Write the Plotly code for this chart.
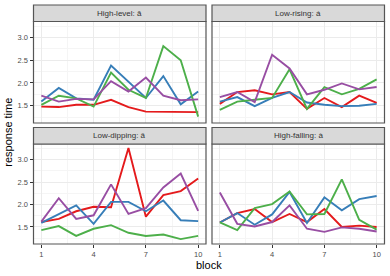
import plotly.graph_objects as go

blocks = [1, 2, 3, 4, 5, 6, 7, 8, 9, 10]
panel_titles = ["High-level: ā", "Low-rising: á", "Low-dipping: ǎ", "High-falling: à"]
series_names = ["group 1", "group 2", "group 3", "group 4"]
series_colors = ["#E41A1C", "#377EB8", "#4DAF4A", "#984EA3"]

# High-level: ā
hl_red    = [1.48, 1.47, 1.52, 1.52, 1.63, 1.47, 1.37, 1.37, 1.36, 1.36]
hl_blue   = [1.59, 1.89, 1.66, 1.63, 2.38, 2.03, 1.67, 2.15, 1.53, 1.81]
hl_green  = [1.52, 1.72, 1.66, 1.48, 2.23, 1.85, 1.67, 2.81, 2.50, 1.26]
hl_purple = [1.72, 1.59, 1.65, 1.64, 2.04, 1.81, 2.12, 1.72, 1.62, 1.64]

# Low-rising: á
lr_red    = [1.54, 1.80, 1.84, 1.75, 1.80, 1.43, 1.67, 1.47, 1.72, 1.56]
lr_blue   = [1.59, 1.69, 1.49, 1.67, 1.80, 1.57, 1.52, 1.49, 1.50, 1.54]
lr_green  = [1.41, 1.59, 1.63, 1.67, 2.30, 1.43, 1.91, 1.75, 1.87, 2.08]
lr_purple = [1.69, 1.80, 1.58, 2.62, 2.32, 1.75, 1.85, 1.99, 1.86, 1.91]

# Low-dipping: ǎ
ld_red    = [1.61, 1.68, 1.85, 1.95, 1.94, 3.26, 1.73, 2.21, 2.30, 2.58]
ld_blue   = [1.59, 1.79, 1.98, 1.57, 2.06, 2.06, 1.85, 2.09, 1.65, 1.63]
ld_green  = [1.43, 1.52, 1.30, 1.46, 1.54, 1.37, 1.30, 1.33, 1.23, 1.30]
ld_purple = [1.62, 2.14, 1.68, 1.76, 2.45, 1.79, 1.92, 2.38, 2.69, 1.86]

# High-falling: à
hf_red    = [1.60, 1.81, 1.90, 1.61, 1.79, 1.61, 1.90, 1.50, 1.53, 1.50]
hf_blue   = [1.60, 1.81, 1.55, 1.78, 2.28, 1.59, 2.16, 1.87, 2.12, 2.19]
hf_green  = [1.60, 1.43, 1.92, 2.01, 2.29, 1.78, 1.79, 2.56, 1.66, 1.44]
hf_purple = [2.27, 1.57, 1.51, 1.61, 1.98, 1.46, 1.39, 1.49, 1.46, 1.40]

panels = [
    [hl_red, hl_blue, hl_green, hl_purple],
    [lr_red, lr_blue, lr_green, lr_purple],
    [ld_red, ld_blue, ld_green, ld_purple],
    [hf_red, hf_blue, hf_green, hf_purple],
]

W, H = 390, 276
FONT = "Liberation Sans, Arial, sans-serif"

# panel geometry in pixels (left, right, top, bottom)
col_x = [(33.5, 206.0), (212.0, 384.5)]
row_y = [(21.5, 123.0), (144.0, 244.0)]
strip_h = 16.5

def px_x(v):
    return v / W

def px_y(v):
    return 1 - v / H

fig = go.Figure()
layout = dict(
    width=W, height=H,
    margin=dict(l=0, r=0, t=0, b=0),
    paper_bgcolor="white", plot_bgcolor="white",
    showlegend=False,
    font=dict(family=FONT, color="#4D4D4D"),
)
shapes = []
annotations = []

for i, series in enumerate(panels):
    r, c = divmod(i, 2)
    n = "" if i == 0 else str(i + 1)
    xl, xr = col_x[c]
    yt, yb = row_y[r]
    for name, color, vals in zip(series_names, series_colors, series):
        fig.add_trace(go.Scatter(
            x=blocks, y=vals, mode="lines", name=name,
            line=dict(color=color, width=1.9),
            xaxis="x" + n, yaxis="y" + n, showlegend=False,
        ))
    bottom = (r == 1)
    left = (c == 0)
    layout["xaxis" + n] = dict(
        domain=[px_x(xl), px_x(xr)], anchor="y" + n,
        range=[0.55, 10.45], tickvals=[1, 4, 7, 10],
        showticklabels=bottom, ticks="outside" if bottom else "",
        ticklen=3, tickwidth=0.8, tickcolor="#333333",
        tickfont=dict(size=7.5, color="#4D4D4D", family=FONT),
        showgrid=True, gridcolor="#EBEBEB", gridwidth=1,
        minor=dict(tickvals=[2.5, 5.5, 8.5], showgrid=True,
                   gridcolor="#F5F5F5", gridwidth=0.6, ticks=""),
        zeroline=False, showline=False, fixedrange=True,
    )
    layout["yaxis" + n] = dict(
        domain=[px_y(yb), px_y(yt)], anchor="x" + n,
        range=[1.12, 3.35], tickvals=[1.5, 2.0, 2.5, 3.0],
        ticktext=["1.5", "2.0", "2.5", "3.0"],
        showticklabels=left, ticks="outside" if left else "",
        ticklen=3, tickwidth=0.8, tickcolor="#333333",
        tickfont=dict(size=7.5, color="#4D4D4D", family=FONT),
        showgrid=True, gridcolor="#EBEBEB", gridwidth=1,
        minor=dict(tickvals=[1.25, 1.75, 2.25, 2.75, 3.25], showgrid=True,
                   gridcolor="#F5F5F5", gridwidth=0.6, ticks=""),
        zeroline=False, showline=False, fixedrange=True,
    )
    # panel border
    shapes.append(dict(type="rect", xref="paper", yref="paper",
                       x0=px_x(xl), x1=px_x(xr), y0=px_y(yb), y1=px_y(yt),
                       line=dict(color="#555555", width=1.2), fillcolor="rgba(0,0,0,0)",
                       layer="above"))
    # strip
    st = yt - strip_h
    shapes.append(dict(type="rect", xref="paper", yref="paper",
                       x0=px_x(xl), x1=px_x(xr), y0=px_y(yt), y1=px_y(st),
                       line=dict(color="#555555", width=1.2), fillcolor="#D9D9D9",
                       layer="above"))
    annotations.append(dict(
        text=panel_titles[i], xref="paper", yref="paper",
        x=px_x((xl + xr) / 2), y=px_y((st + yt) / 2),
        xanchor="center", yanchor="middle", showarrow=False,
        font=dict(size=8, color="#333333", family=FONT),
    ))

annotations.append(dict(
    text="block", xref="paper", yref="paper",
    x=px_x((col_x[0][0] + col_x[1][1]) / 2), y=px_y(265),
    xanchor="center", yanchor="middle", showarrow=False,
    font=dict(size=11, color="#000000", family=FONT),
))
annotations.append(dict(
    text="response time", xref="paper", yref="paper",
    x=px_x(8), y=px_y((row_y[0][0] + row_y[1][1]) / 2),
    xanchor="center", yanchor="middle", showarrow=False, textangle=-90,
    font=dict(size=11, color="#000000", family=FONT),
))

layout["shapes"] = shapes
layout["annotations"] = annotations
fig.update_layout(**layout)
fig.write_html(
    "out.html",
    config={"displayModeBar": False},
    post_script="document.body.style.margin='0';document.body.style.overflow='hidden';",
)
